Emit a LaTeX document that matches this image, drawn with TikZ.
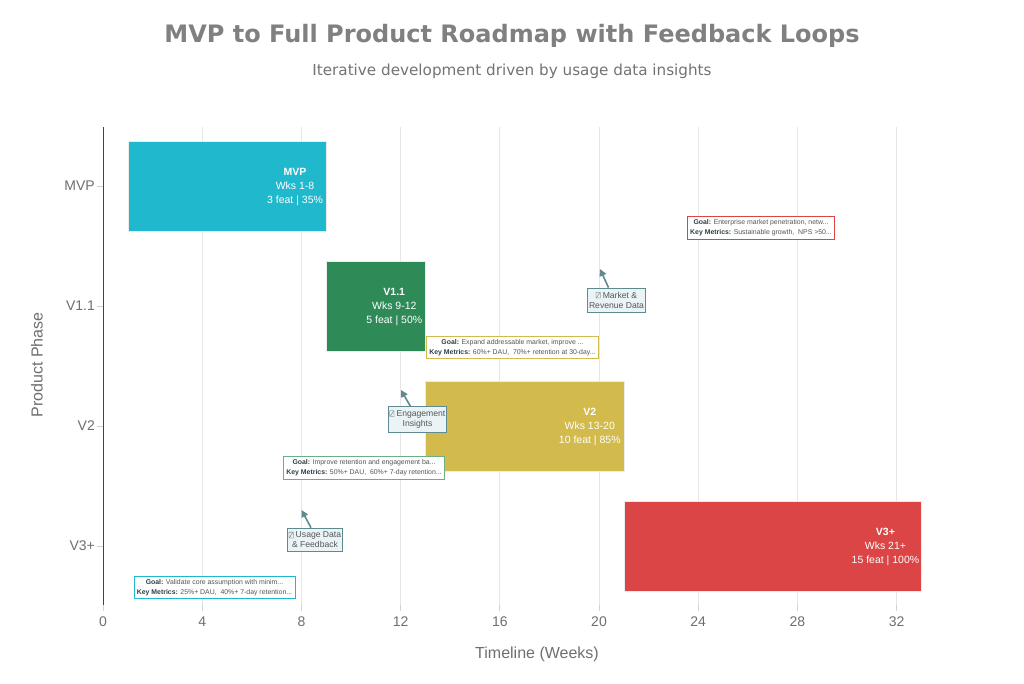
\documentclass[tikz,border=0pt]{standalone}
\usepackage{fontspec}
\setmainfont{Liberation Sans}
\newfontfamily\titlefont{DejaVu Sans}
\usetikzlibrary{arrows.meta}
\definecolor{cMVP}{HTML}{1FB8CD}
\definecolor{cVa}{HTML}{2E8B57}
\definecolor{cVb}{HTML}{D2BA4C}
\definecolor{cVc}{HTML}{DB4545}
\definecolor{gridc}{HTML}{E6E6E6}
\definecolor{axc}{HTML}{444444}
\definecolor{tickc}{HTML}{6F6F6F}
\definecolor{titc}{HTML}{808080}
\definecolor{fbfill}{HTML}{EAF3F5}
\definecolor{fbdraw}{HTML}{5E8A90}
\definecolor{goaltxt}{HTML}{555555}
\definecolor{goalkey}{HTML}{2F3E46}
\newcommand\tofu{\tikz[x=1pt,y=1pt,baseline=0pt]\draw[line width=0.3pt,goaltxt] (0,0) rectangle (4.2,5.8) (0.7,0.7)--(3.5,5.1);}
\tikzset{
  barbox/.style={draw=white!85!gray, line width=0.6pt, inner sep=0pt, outer sep=0pt, anchor=north west, minimum height=90pt},
  bartext/.style={text=white, align=center, font=\fontsize{10.5}{14}\selectfont, anchor=east, inner sep=0pt},
  goalbox/.style={draw, line width=0.8pt, fill=white, align=center, inner xsep=3pt, inner ysep=3pt, font=\fontsize{6.9}{10}\selectfont, text=goaltxt},
  fbbox/.style={draw=fbdraw, line width=0.9pt, fill=fbfill, align=center, inner xsep=1.5pt, inner ysep=3.8pt, font=\fontsize{8.6}{10}\selectfont, text=axc!90},
  fbarrow/.style={draw=fbdraw, line width=1.6pt, -{Triangle[length=7pt,width=7pt]}},
  ticklab/.style={text=tickc, font=\fontsize{14}{16}\selectfont, inner sep=0pt}
}
\newcommand\gl[2]{\textbf{\color{goalkey}Goal:} #1\\\textbf{\color{goalkey}Key Metrics:} #2}
\begin{document}
\begin{tikzpicture}[x=1pt,y=-1pt]
\useasboundingbox (0,0) rectangle (1024,683);
\fill[white] (0,0) rectangle (1024,683);
% title
\node[font=\titlefont\bfseries\fontsize{24}{28}\selectfont, text=titc] (title) at (512,36) {MVP to Full Product Roadmap with Feedback Loops};
\node[font=\titlefont\fontsize{15.2}{18}\selectfont, text=titc!90!black] (subtitle) at (512,71) {Iterative development driven by usage data insights};
% grid and x ticks
\foreach \xx/\lab [count=\i] in {103/0,202.2/4,301.4/8,400.6/12,499.8/16,599/20,698.2/24,797.4/28,896.6/32}{
  \ifnum\i>1 \draw[gridc, line width=0.9pt] (\xx,127) -- (\xx,605); \fi
  \draw[gridc!80!gray, line width=0.9pt] (\xx,605) -- (\xx,611);
  \node[ticklab] (xt\i) at (\xx,622) {\lab};
}
% y axis
\draw[axc, line width=1pt] (103,127) -- (103,605);
\foreach \yy/\lab [count=\i] in {186/MVP,306/V1.1,426/V2,546/V3+}{
  \draw[gridc!80!gray, line width=0.9pt] (97,\yy) -- (103,\yy);
  \node[ticklab, anchor=east] (yt\i) at (95,\yy) {\lab};
}
\node[text=tickc, font=\fontsize{16}{18}\selectfont] (xlab) at (537,654) {Timeline (Weeks)};
\node[text=tickc, font=\fontsize{16}{18}\selectfont, rotate=90] (ylab) at (37,365) {Product Phase};
% bars
\node[barbox, fill=cMVP, minimum width=198.4pt] (mvp) at (127.8,141) {};
\node[barbox, fill=cVa, minimum width=99.2pt] (va) at (326.2,261) {};
\node[barbox, fill=cVb, minimum width=198.4pt] (vb) at (425.4,381) {};
\node[barbox, fill=cVc, minimum width=297.6pt] (vc) at (623.8,501) {};
\node[bartext] (mvpt) at ([xshift=-3pt,yshift=-1pt]mvp.east) {\textbf{MVP}\\Wks 1-8\\3 feat | 35\%};
\node[bartext] (vat) at ([xshift=-3pt,yshift=-1pt]va.east) {\textbf{V1.1}\\Wks 9-12\\5 feat | 50\%};
\node[bartext] (vbt) at ([xshift=-3pt,yshift=-1pt]vb.east) {\textbf{V2}\\Wks 13-20\\10 feat | 85\%};
\node[bartext] (vct) at ([xshift=-2pt,yshift=-1pt]vc.east) {\textbf{V3+}\\Wks 21+\\15 feat | 100\%};
% goal boxes
\node[goalbox, draw=cMVP] (g1) at (214.5,587.5) {\gl{Validate core assumption with minim...}{25\%+ DAU,\ \ 40\%+ 7-day retention...}};
\node[goalbox, draw=cVb] (g2) at (512.5,347.5) {\gl{Expand addressable market, improve ...}{60\%+ DAU,\ \ 70\%+ retention at 30-day...}};
\node[goalbox, draw=cVa!70!white] (g3) at (364,468) {\gl{Improve retention and engagement ba...}{50\%+ DAU,\ \ 60\%+ 7-day retention...}};
\node[goalbox, draw=cVc] (g4) at (761,228) {\gl{Enterprise market penetration, netw...}{Sustainable growth,\ \ NPS >50...}};
% feedback labels
\node[fbbox] (fb1) at (315,540) {\tofu\ Usage Data\\\& Feedback};
\node[fbbox] (fb2) at (417.5,419.5) {\tofu\ Engagement\\Insights};
\node[fbbox] (fb3) at (616.5,300) {\tofu\ Market \&\\Revenue Data};
\coordinate (t1) at (301.5,510);
\coordinate (t2) at (401,390);
\coordinate (t3) at (600,269);
\draw[fbarrow] ([xshift=-4pt]fb1.north) -- (t1);
\draw[fbarrow] ([xshift=-7pt]fb2.north) -- (t2);
\draw[fbarrow] ([xshift=-8pt]fb3.north) -- (t3);
\end{tikzpicture}
\end{document}
